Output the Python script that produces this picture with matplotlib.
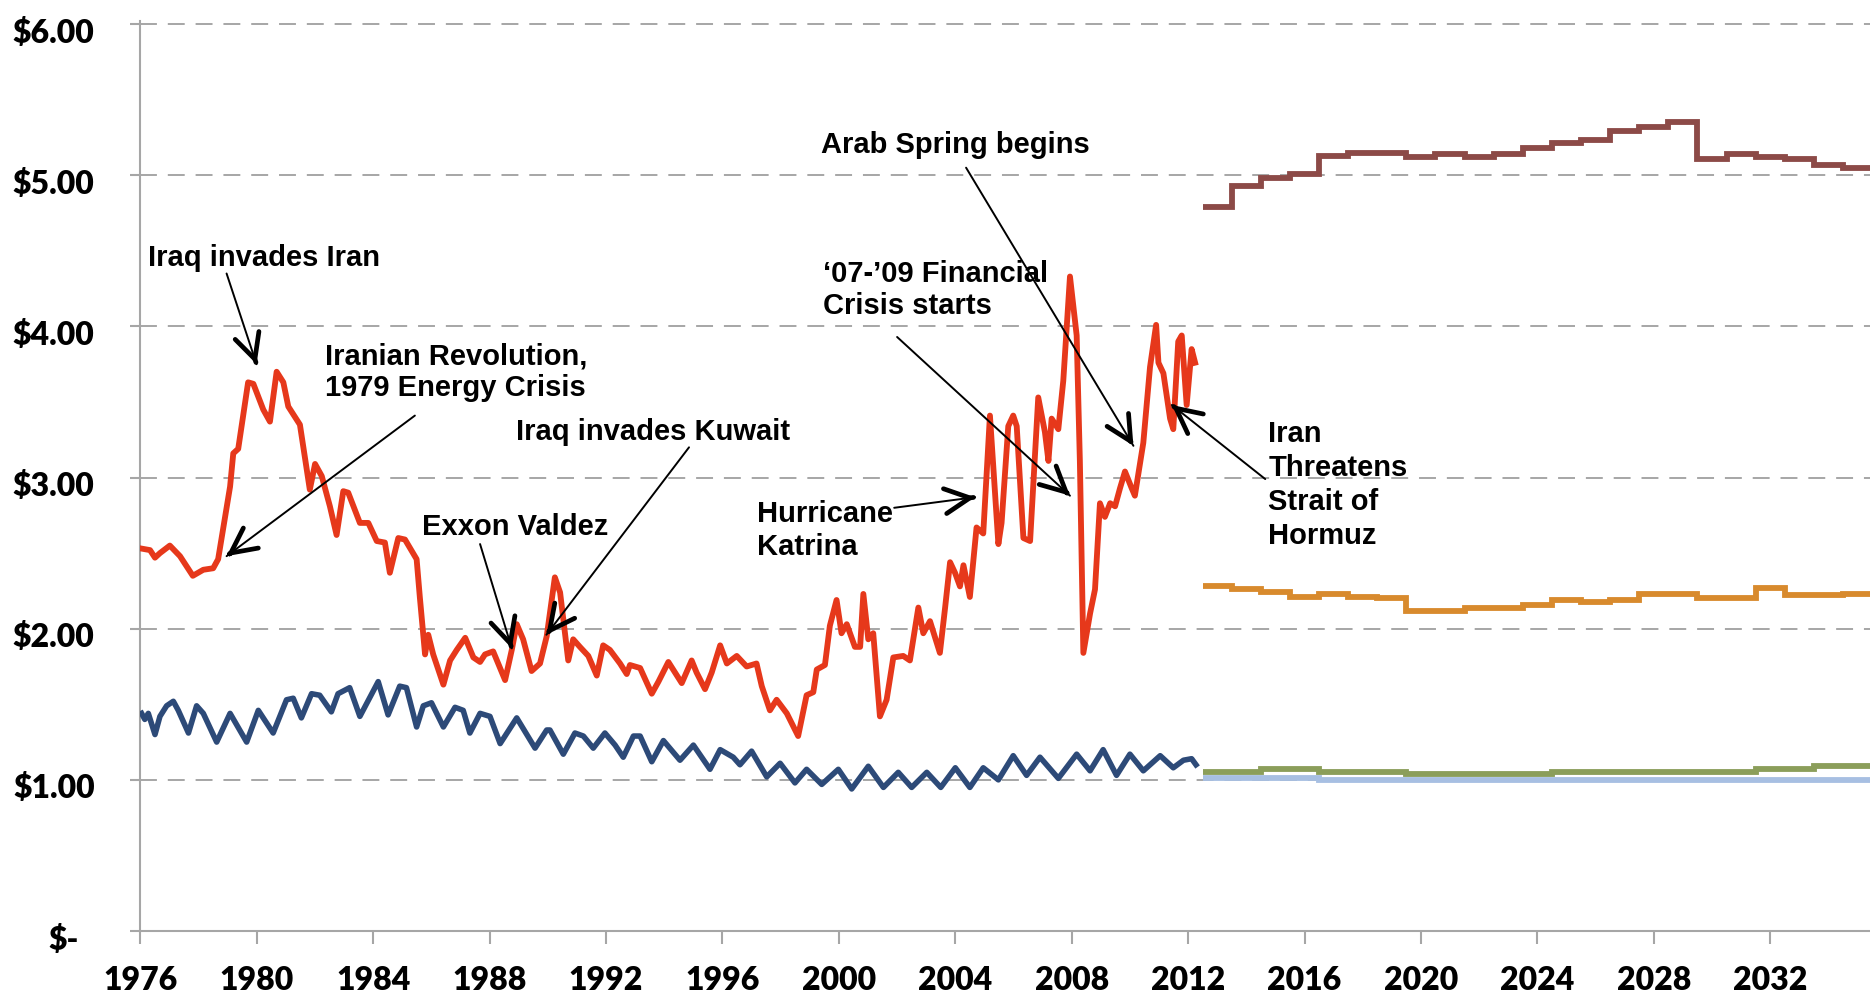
import matplotlib.pyplot as plt
from matplotlib.transforms import ScaledTranslation

# historical real gasoline price (red), decimal year -> $
gas_years = [1976.04, 1976.33, 1976.5, 1976.67, 1977.01, 1977.36, 1977.8, 1978.16, 1978.5, 1978.67,
             1979.08, 1979.19, 1979.36, 1979.7, 1979.88, 1980.22, 1980.45, 1980.68, 1980.91, 1981.08,
             1981.48, 1981.82, 1982.0, 1982.23, 1982.51, 1982.74, 1982.97, 1983.14, 1983.54, 1983.83,
             1984.12, 1984.4, 1984.57, 1984.86, 1985.09, 1985.49, 1985.6, 1985.78, 1985.89, 1986.06,
             1986.41, 1986.64, 1986.87, 1987.16, 1987.44, 1987.67, 1987.84, 1988.12, 1988.53, 1988.76,
             1988.93, 1989.15, 1989.44, 1989.73, 1989.96, 1990.24, 1990.42, 1990.7, 1990.87, 1991.1,
             1991.39, 1991.68, 1991.9, 1992.13, 1992.48, 1992.71, 1992.82, 1993.17, 1993.57, 1993.8,
             1994.14, 1994.6, 1994.94, 1995.11, 1995.4, 1995.63, 1995.92, 1996.15, 1996.49, 1996.83,
             1997.17, 1997.35, 1997.63, 1997.86, 1998.21, 1998.6, 1998.89, 1999.12, 1999.24, 1999.52,
             1999.69, 1999.92, 2000.09, 2000.27, 2000.55, 2000.73, 2000.84, 2001.01, 2001.18, 2001.41,
             2001.64, 2001.87, 2002.21, 2002.44, 2002.73, 2002.9, 2003.13, 2003.47, 2003.65, 2003.82,
             2003.99, 2004.16, 2004.28, 2004.5, 2004.73, 2004.96, 2005.19, 2005.48, 2005.59, 2005.82,
             2005.99, 2006.11, 2006.34, 2006.57, 2006.85, 2007.08, 2007.2, 2007.31, 2007.54, 2007.71,
             2007.94, 2008.17, 2008.28, 2008.4, 2008.63, 2008.8, 2008.97, 2009.14, 2009.32, 2009.49,
             2009.66, 2009.83, 2010.06, 2010.17, 2010.46, 2010.69, 2010.9, 2010.98, 2011.15, 2011.38,
             2011.49, 2011.66, 2011.78, 2011.95, 2012.12, 2012.24]
gas_price = [2.53, 2.52, 2.47, 2.50, 2.55, 2.48, 2.35, 2.39, 2.40, 2.46,
             2.94, 3.16, 3.19, 3.63, 3.62, 3.45, 3.37, 3.70, 3.63, 3.47,
             3.35, 2.92, 3.09, 3.01, 2.81, 2.62, 2.91, 2.90, 2.70, 2.70,
             2.58, 2.57, 2.37, 2.60, 2.59, 2.46, 2.21, 1.83, 1.96, 1.83,
             1.63, 1.79, 1.86, 1.94, 1.81, 1.78, 1.83, 1.85, 1.66, 1.86,
             2.03, 1.93, 1.72, 1.77, 1.95, 2.34, 2.24, 1.79, 1.93, 1.88,
             1.82, 1.69, 1.89, 1.86, 1.77, 1.70, 1.76, 1.74, 1.57, 1.65,
             1.78, 1.64, 1.79, 1.71, 1.60, 1.71, 1.89, 1.77, 1.82, 1.75,
             1.77, 1.62, 1.46, 1.53, 1.44, 1.29, 1.56, 1.58, 1.73, 1.76,
             2.02, 2.19, 1.97, 2.03, 1.88, 1.88, 2.23, 1.93, 1.97, 1.42,
             1.53, 1.81, 1.82, 1.79, 2.14, 1.97, 2.05, 1.84, 2.14, 2.44,
             2.37, 2.28, 2.42, 2.21, 2.67, 2.63, 3.41, 2.56, 2.70, 3.34,
             3.41, 3.34, 2.60, 2.58, 3.53, 3.30, 3.11, 3.39, 3.32, 3.64,
             4.33, 3.94, 3.11, 1.84, 2.10, 2.26, 2.83, 2.74, 2.83, 2.81,
             2.93, 3.04, 2.93, 2.88, 3.23, 3.73, 4.01, 3.76, 3.69, 3.39,
             3.32, 3.90, 3.94, 3.48, 3.85, 3.76]

# dark blue historical series
blue_years = [1976.04, 1976.15, 1976.27, 1976.5, 1976.67, 1976.9, 1977.13, 1977.3, 1977.65, 1977.93,
              1978.16, 1978.62, 1979.08, 1979.65, 1980.05, 1980.56, 1981.02, 1981.25, 1981.53, 1981.88,
              1982.16, 1982.56, 1982.79, 1983.19, 1983.54, 1984.17, 1984.51, 1984.91, 1985.14, 1985.49,
              1985.72, 1986.0, 1986.41, 1986.81, 1987.09, 1987.32, 1987.67, 1988.01, 1988.36, 1988.93,
              1989.56, 1989.96, 1990.07, 1990.53, 1990.93, 1991.22, 1991.56, 1991.96, 1992.31, 1992.59,
              1992.94, 1993.17, 1993.57, 1993.97, 1994.54, 1995.0, 1995.57, 1995.92, 1996.37, 1996.6,
              1997.0, 1997.52, 1997.98, 1998.49, 1998.89, 1999.41, 1999.98, 2000.44, 2001.01, 2001.53,
              2002.04, 2002.5, 2003.02, 2003.5, 2004.0, 2004.5, 2004.96, 2005.48, 2005.99, 2006.45,
              2006.91, 2007.54, 2008.17, 2008.63, 2009.08, 2009.54, 2010.0, 2010.46, 2011.04, 2011.49,
              2011.84, 2012.12, 2012.27]
blue_vals = [1.44, 1.40, 1.44, 1.30, 1.42, 1.49, 1.52, 1.46, 1.31, 1.49,
             1.44, 1.25, 1.44, 1.25, 1.46, 1.31, 1.53, 1.54, 1.41, 1.57,
             1.56, 1.45, 1.57, 1.61, 1.42, 1.65, 1.43, 1.62, 1.61, 1.35,
             1.49, 1.51, 1.35, 1.48, 1.46, 1.31, 1.44, 1.42, 1.24, 1.41,
             1.21, 1.33, 1.33, 1.17, 1.31, 1.29, 1.21, 1.31, 1.23, 1.15,
             1.29, 1.29, 1.12, 1.26, 1.13, 1.23, 1.07, 1.20, 1.15, 1.10,
             1.19, 1.02, 1.11, 0.98, 1.07, 0.97, 1.07, 0.94, 1.09, 0.95,
             1.05, 0.95, 1.05, 0.95, 1.08, 0.95, 1.08, 1.00, 1.16, 1.03,
             1.15, 1.01, 1.17, 1.06, 1.20, 1.03, 1.17, 1.06, 1.16, 1.08,
             1.13, 1.14, 1.10]

# projections, one value per year segment
proj_edges = [2012.5, 2013.5, 2014.5, 2015.5, 2016.5, 2017.5, 2018.5, 2019.5, 2020.5, 2021.5,
              2022.5, 2023.5, 2024.5, 2025.5, 2026.5, 2027.5, 2028.5, 2029.5, 2030.5, 2031.5,
              2032.5, 2033.5, 2034.5, 2035.5]
proj_high = [4.79, 4.93, 4.98, 5.01, 5.13, 5.15, 5.15, 5.12, 5.14, 5.12, 5.14, 5.18,
             5.21, 5.23, 5.29, 5.32, 5.35, 5.11, 5.14, 5.12, 5.11, 5.07, 5.05]
proj_mid = [2.28, 2.26, 2.24, 2.21, 2.23, 2.21, 2.20, 2.12, 2.12, 2.14, 2.14, 2.16,
            2.19, 2.18, 2.19, 2.23, 2.23, 2.20, 2.20, 2.27, 2.22, 2.22, 2.23]
proj_green = [1.05, 1.05, 1.07, 1.07, 1.05, 1.05, 1.05, 1.04, 1.04, 1.04, 1.04, 1.04,
              1.05, 1.05, 1.05, 1.05, 1.05, 1.05, 1.05, 1.07, 1.07, 1.09, 1.09]
proj_light = [1.015, 1.015, 1.015, 1.015, 1.0, 1.0, 1.0, 1.0, 1.0, 1.0, 1.0, 1.0,
              1.0, 1.0, 1.0, 1.0, 1.0, 1.0, 1.0, 1.0, 1.0, 1.0, 1.0]

x_ticks = [1976, 1980, 1984, 1988, 1992, 1996, 2000, 2004, 2008, 2012, 2016, 2020, 2024, 2028, 2032]
y_ticks = [0, 1, 2, 3, 4, 5, 6]
y_labels = ['\\$-', '\\$1.00', '\\$2.00', '\\$3.00', '\\$4.00', '\\$5.00', '\\$6.00']

# (text, baseline of last line, arrow tail, arrow head, line spacing)
notes = [
    ("Iraq invades Iran", (1976.27, 4.40), (1978.96, 4.35), (1979.99, 3.75), 1.2),
    ("Iranian Revolution,\n1979 Energy Crisis", (1982.34, 3.54), (1985.43, 3.41), (1978.96, 2.48), 1.15),
    ("Iraq invades Kuwait", (1988.9, 3.25), (1994.85, 3.20), (1989.95, 1.96), 1.2),
    ("Exxon Valdez", (1985.66, 2.62), (1987.67, 2.56), (1988.76, 1.87), 1.2),
    ("Hurricane\nKatrina", (1997.18, 2.49), (2001.9, 2.80), (2004.68, 2.87), 1.22),
    ("\u201807-\u201909 Financial\nCrisis starts", (1999.45, 4.08), (2002.0, 3.93), (2007.94, 2.88), 1.18),
    ("Arab Spring begins", (1999.37, 5.15), (2004.37, 5.05), (2010.12, 3.21), 1.2),
    ("Iran\nThreatens\nStrait of\nHormuz", (2014.76, 2.56), (2014.65, 2.99), (2011.44, 3.48), 1.27),
]

grey = '#A6A6A6'

fig = plt.figure(figsize=(18.7, 9.98), dpi=100)
ax = fig.add_axes([0.0751, 0.0671, 0.9249, 0.9118])

ax.plot(blue_years, blue_vals, color='#2D4A78', lw=4.0, solid_joinstyle='round', zorder=3)
ax.plot(gas_years, gas_price, color='#E6381B', lw=4.2, solid_joinstyle='round', zorder=4)
ax.stairs(proj_light, proj_edges, baseline=None, color='#A7BFE2', lw=4.2, zorder=3)
ax.stairs(proj_green, proj_edges, baseline=None, color='#8B9E5A', lw=4.2, zorder=3)
ax.stairs(proj_mid, proj_edges, baseline=None, color='#D88A2D', lw=4.2, zorder=3)
ax.stairs(proj_high, proj_edges, baseline=None, color='#8C4A47', lw=4.2, zorder=3)

ax.set_xlim(1976, 2035.43)
ax.set_ylim(0, 6.02)

ax.set_yticks(y_ticks)
ax.set_yticklabels(y_labels, fontfamily='Lato', fontweight='heavy', fontsize=23)
ax.set_xticks(x_ticks)
ax.set_xticklabels([str(y) for y in x_ticks], fontfamily='Lato', fontweight='heavy', fontsize=23)

ax.set_axisbelow(True)
ax.yaxis.grid(True, color=grey, lw=1.4, linestyle=(0, (8.7, 5.6)))
for s in ['top', 'right']:
    ax.spines[s].set_visible(False)
for s in ['left', 'bottom']:
    ax.spines[s].set_color(grey)
    ax.spines[s].set_linewidth(1.5)
ax.tick_params(axis='y', direction='out', length=7, width=1.5, color=grey, pad=26)
ax.tick_params(axis='x', direction='out', length=9, width=1.5, color=grey, pad=16)

# labels sit a little below their gridlines; the zero label is set further left
for i, lab in enumerate(ax.get_yticklabels()):
    dx = -0.16 if i == 0 else 0
    lab.set_transform(lab.get_transform() + ScaledTranslation(dx, -0.06, fig.dpi_scale_trans))

for text, txy, tail, head, ls in notes:
    ax.text(txy[0], txy[1], text, fontsize=21, fontweight='bold', family='Liberation Sans',
            ha='left', va='baseline', linespacing=ls, zorder=6)
    ax.annotate('', xy=head, xytext=tail,
                arrowprops=dict(arrowstyle='-', lw=1.4, color='black', shrinkA=0, shrinkB=0), zorder=6)
    near = (head[0] + (tail[0] - head[0]) * 0.02, head[1] + (tail[1] - head[1]) * 0.02)
    ax.annotate('', xy=head, xytext=near,
                arrowprops=dict(arrowstyle='->,head_length=0.9,head_width=0.45', lw=3.4, color='black',
                                shrinkA=0, shrinkB=0, mutation_scale=20), zorder=6)

fig.savefig('out.png', dpi=100)
